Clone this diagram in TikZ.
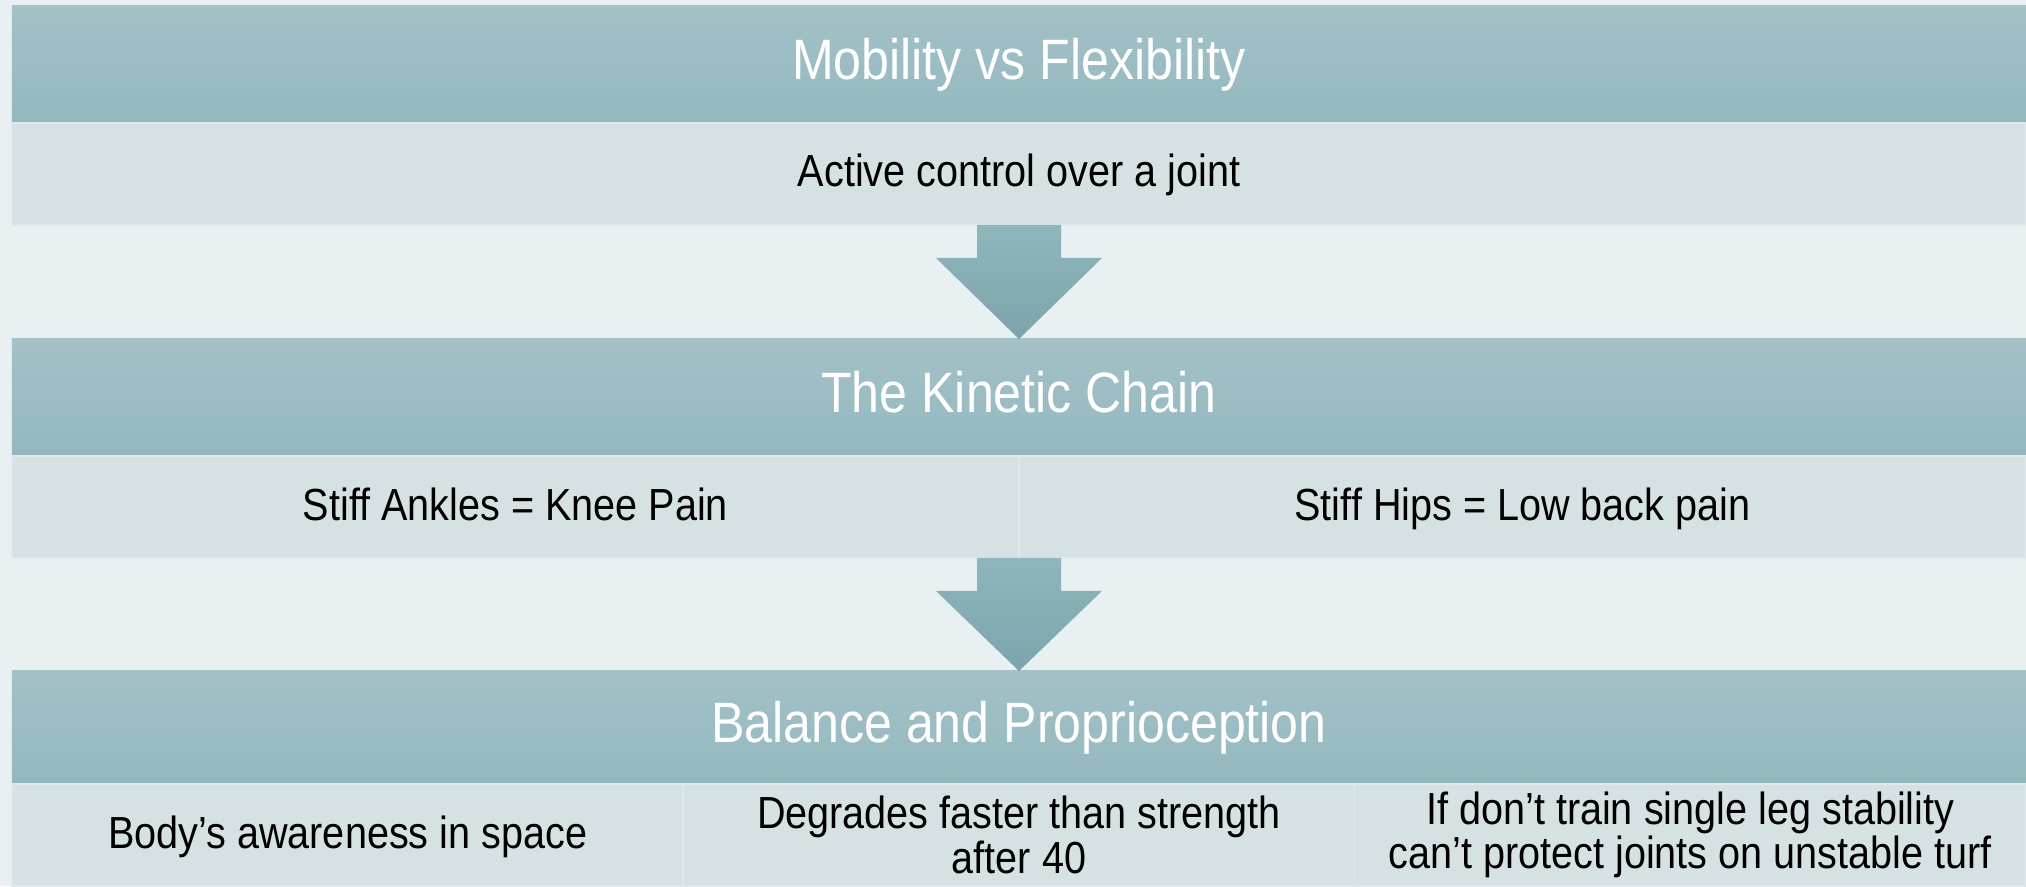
\documentclass[tikz,border=0pt]{standalone}
\usepackage{fontspec}
\setmainfont{Liberation Sans}[FakeStretch=0.88]
\usetikzlibrary{positioning,calc}

\definecolor{pagebg}{HTML}{E8F0F2}
\definecolor{headtop}{HTML}{A3C1C7}
\definecolor{headbot}{HTML}{94B8C0}
\definecolor{cellfill}{HTML}{D6E1E4}
\definecolor{cellline}{HTML}{DFE8EA}
\definecolor{arrowtop}{HTML}{8EB6BC}
\definecolor{arrowbot}{HTML}{7BA4AC}

\begin{document}
\begin{tikzpicture}
        [every node/.style={inner sep=0pt,outer sep=0pt},node distance=0pt]
        \tikzset{HeadStyle/.style = {shape          = rectangle,
                                     top color      = headtop,
                                     bottom color   = headbot,
                                     text           = white,
                                     text height    = 0.86em,
                                     text depth     = 0pt,
                                     minimum width  = 20.14cm,
                                     minimum height = 1.17cm,
                                     font           = \fontsize{16.2}{19}\selectfont},
                 CellStyle/.style = {shape          = rectangle,
                                     fill           = cellfill,
                                     draw           = cellline,
                                     line width     = 0.5pt,
                                     text           = black,
                                     text height    = 0.74em,
                                     text depth     = 0pt,
                                     align          = center,
                                     minimum height = 1.02cm,
                                     font           = \fontsize{12.8}{12.6}\selectfont},
                 TwoLines/.style  = {text height={},text depth={}},
                 ArrowStyle/.style = {top color     = arrowtop,
                                      bottom color  = arrowbot}}
        \fill[pagebg] (0,0) rectangle (20.26,8.86);
        \useasboundingbox (0,0) rectangle (20.26,8.86);
        % rows
        \node[HeadStyle,anchor=north west] (Mobility) at (0.12,8.80) {Mobility vs Flexibility};
        \node[CellStyle,minimum width=20.14cm,below=of Mobility] (Control) {Active control over a joint};
        \node[HeadStyle,below=1.14cm of Control] (Kinetic) {The Kinetic Chain};
        \node[CellStyle,minimum width=10.07cm,anchor=north west] (Ankles) at (Kinetic.south west) {Stiff Ankles = Knee Pain};
        \node[CellStyle,minimum width=10.07cm,right=of Ankles] (Hips) {Stiff Hips = Low back pain};
        \node[HeadStyle,minimum height=1.13cm,below=2.15cm of Kinetic] (Balance) {Balance and Proprioception};
        \node[CellStyle,minimum width=6.713cm,anchor=north west] (Awareness) at (Balance.south west) {Body’s awareness in space};
        \node[CellStyle,TwoLines,minimum width=6.713cm,right=of Awareness] (Degrades) {Degrades faster than strength\\after 40};
        \node[CellStyle,TwoLines,minimum width=6.713cm,right=of Degrades] (Stability) {If don’t train single leg stability\\can’t protect joints on unstable turf};
        % block arrows
        \foreach \from/\to in {Control/Kinetic,Hips/Balance}
            \shade[ArrowStyle] ($(\to.north |- \from.south)+(-0.42,0)$) -- ($(\to.north |- \from.south)+(0.42,0)$)
                -- ($(\to.north |- \from.south)+(0.42,-0.33)$) -- ($(\to.north |- \from.south)+(0.83,-0.33)$)
                -- (\to.north) -- ($(\to.north |- \from.south)+(-0.83,-0.33)$)
                -- ($(\to.north |- \from.south)+(-0.42,-0.33)$) -- cycle;
    \end{tikzpicture}
\end{document}
